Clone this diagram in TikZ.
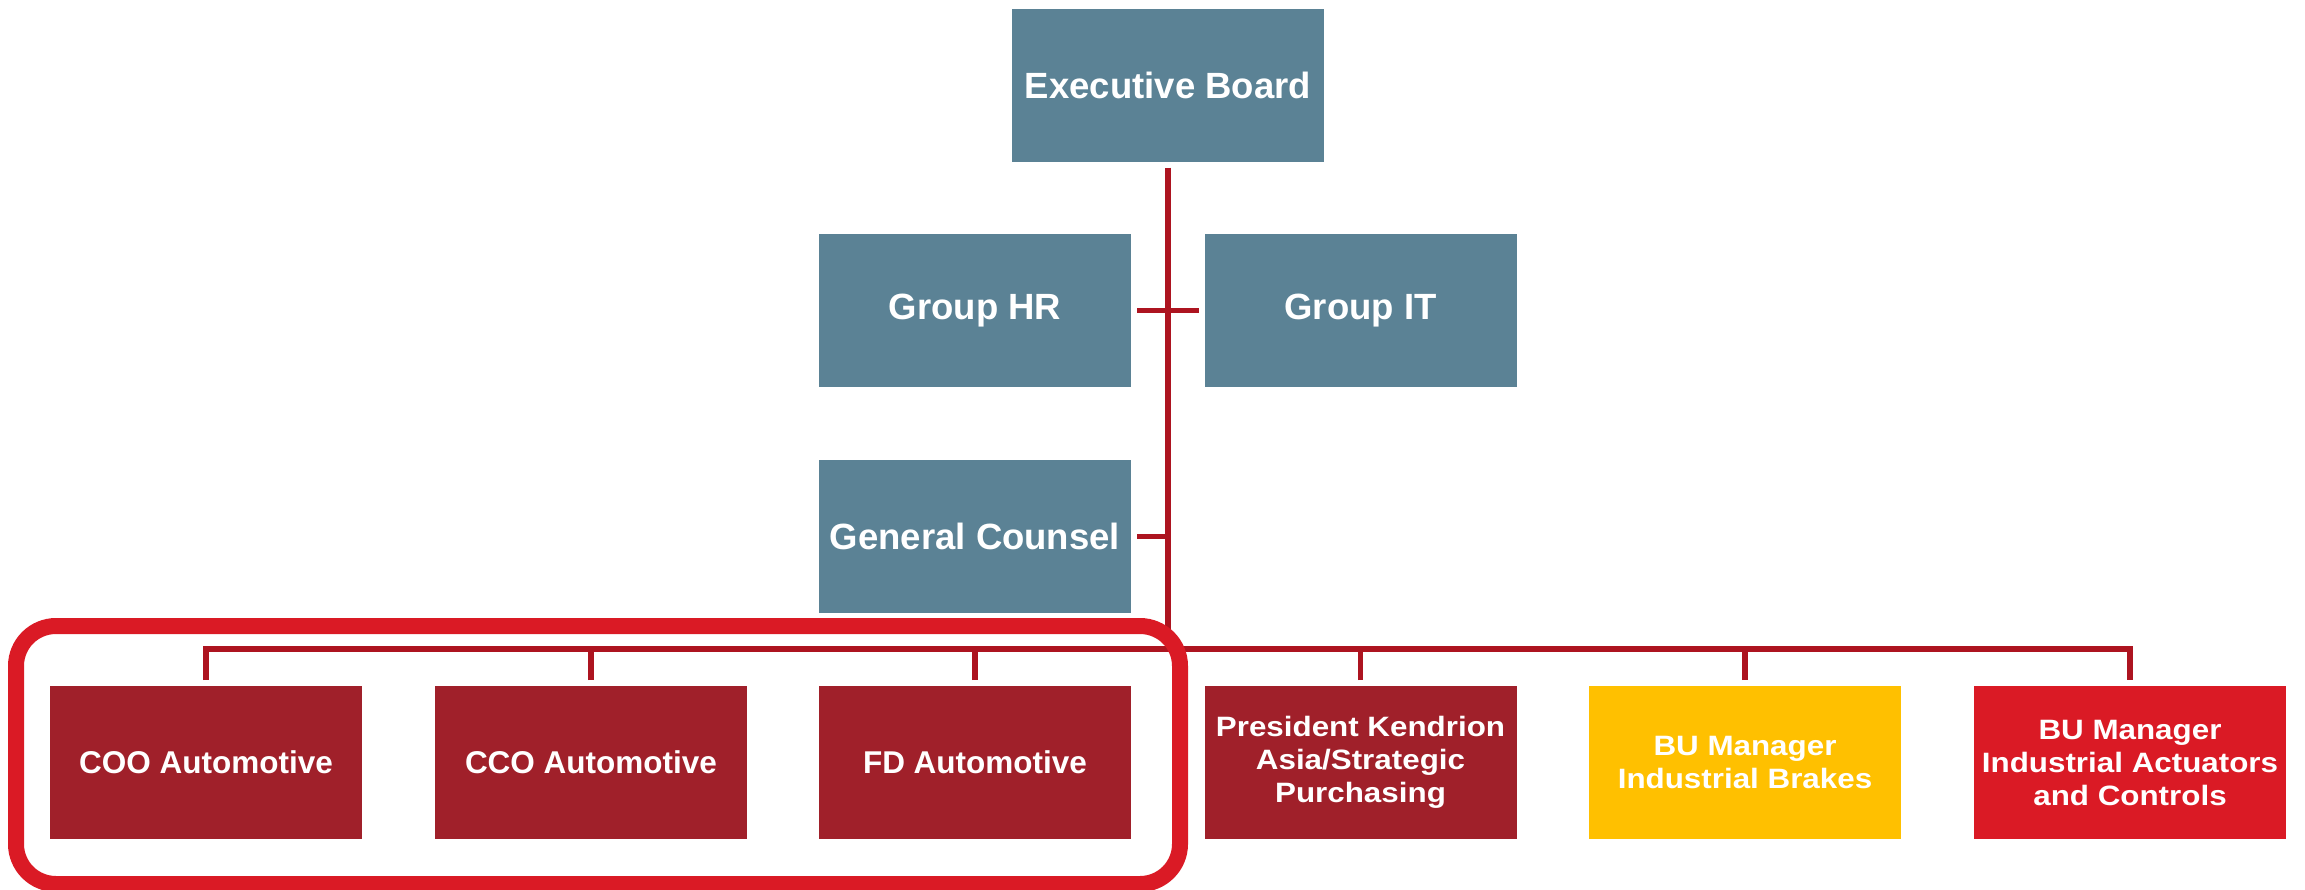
\documentclass[tikz,border=0pt]{standalone}
\usepackage{fontspec}
\setmainfont{Liberation Sans}
\newfontfamily\widefont[FakeStretch=1.12]{Liberation Sans}
\definecolor{slate}{HTML}{5B8295}
\definecolor{boxred}{HTML}{A0202A}
\definecolor{linered}{HTML}{AD1420}
\definecolor{buyellow}{HTML}{FFC000}
\definecolor{brightred}{HTML}{DA1A25}
\begin{document}
\begin{tikzpicture}[x=1pt,y=-1pt,
  box/.style={rectangle, minimum width=312pt, minimum height=153pt, inner sep=0pt, outer sep=6pt, text=white, align=center},
  topbox/.style={box, fill=slate, font=\fontsize{36.5}{40}\selectfont\bfseries},
  lowbox/.style={box, font=\fontsize{31.5}{34}\selectfont\bfseries},
  multibox/.style={box, font=\widefont\fontsize{28}{33}\selectfont\bfseries},
  conn/.style={draw=linered, line width=5.5pt, line join=miter},
  highlight/.style={draw=brightred, line width=16pt, rounded corners=40pt}]
\useasboundingbox (0,0) rectangle (2305,889);
% top nodes
\node[topbox] (eb) at (1168,85) {Executive Board};
\node[topbox] (hr) at (975,310.5) {Group HR};
\node[topbox] (it) at (1360.5,310.5) {Group IT};
\node[topbox] (gc) at (975,536.5) {General Counsel};
% bottom nodes
\node[lowbox, fill=boxred] (coo) at (206,762.5) {COO Automotive};
\node[lowbox, fill=boxred] (cco) at (591,762.5) {CCO Automotive};
\node[lowbox, fill=boxred] (fd) at (975,762.5) {FD Automotive};
\node[multibox, fill=boxred] (pres) at (1360.5,762.5) {President Kendrion\\Asia/Strategic\\Purchasing};
\node[multibox, fill=buyellow] (brk) at (1745,762.5) {BU Manager\\Industrial Brakes};
\node[multibox, fill=brightred] (act) at (2130,762.5) {BU Manager\\Industrial Actuators\\and Controls};
% connectors
\coordinate (bus) at (1168,649);
\draw[conn] (eb.south) -- (eb.south |- bus);
\draw[conn] (hr.east) -- (it.west);
\draw[conn] (gc.east) -- (gc.east -| eb.south);
\draw[conn] (coo.north) -- (coo.north |- bus) -- (act.north |- bus) -- (act.north);
\foreach \n in {cco,fd,pres,brk}{
  \draw[conn] (\n.north) -- (\n.north |- bus);
}
% highlight frame
\draw[highlight] (16,626) rectangle (1180,884);
\end{tikzpicture}
\end{document}
